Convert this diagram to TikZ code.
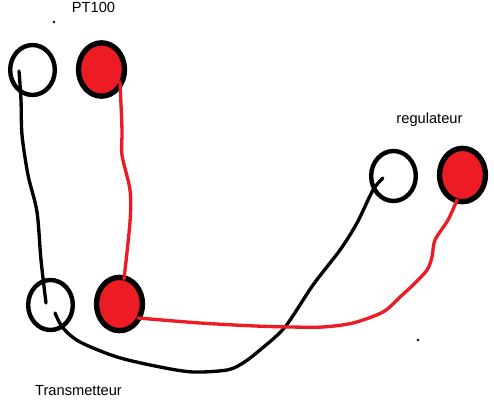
\documentclass[tikz,border=0pt]{standalone}
\usepackage{fontspec}
\setmainfont{Liberation Sans}
\usepackage{xcolor}
\usetikzlibrary{shapes.geometric}
\definecolor{paintred}{HTML}{ED1C24}

\begin{document}
\begin{tikzpicture}[
  x=0.75pt, y=-0.75pt,
  blackpin/.style={draw=black, ellipse, line width=3.3pt, fill=white, inner sep=0pt, minimum width=33.5pt, minimum height=37.5pt},
  redpin/.style={draw=black, ellipse, line width=4pt, fill=paintred, inner sep=0pt, minimum width=34.5pt, minimum height=40pt},
  wire/.style={line width=2.5pt, line cap=round, line join=round},
  label/.style={font=\fontsize{11pt}{13pt}\selectfont, inner sep=0pt},
  speck/.style={fill=black, circle, inner sep=0pt, minimum size=2pt}
]
  \useasboundingbox (0,0) rectangle (494,402);

  % PT100
  \node[blackpin] (ptblack) at (32.5,70) {};
  \node[redpin] (ptred) at (101.5,69.5) {};
  \node[label] (ptlabel) at (93.5,7) {PT100};
  \coordinate (ptblackend) at (19,71);
  \coordinate (ptredend) at (120,82);

  % Transmetteur
  \node[blackpin] (trblack) at (50.5,305) {};
  \node[redpin] (trred) at (119.5,304) {};
  \node[label] (trlabel) at (78.5,391) {Transmetteur};
  \coordinate (trblackin) at (46,303);
  \coordinate (trblackout) at (55,313);
  \coordinate (trredin) at (124,279);
  \coordinate (trredout) at (138,318);

  % regulateur
  \node[blackpin] (regblack) at (393.5,176) {};
  \node[redpin] (regred) at (462.5,175) {};
  \node[label] (reglabel) at (429.5,119.5) {regulateur};
  \coordinate (regblackend) at (383,178);
  \coordinate (regredend) at (457,200);

  % Black wires
  \draw[wire, black] plot[smooth, tension=0.5] coordinates {(ptblackend) (21,100) (22,135) (28,175) (37,212) (41,260) (trblackin)};
  \draw[wire, black] plot[smooth, tension=0.5] coordinates {(trblackout) (63,328) (80,342) (117,357) (160,367) (193,372) (227,370) (243,363) (260,350) (285,327) (313,285) (340,250) (357,223) (373,190) (regblackend)};

  % Red wires
  \draw[wire, paintred] plot[smooth, tension=0.5] coordinates {(ptredend) (122,130) (122,155) (130,190) (130,222) (trredin)};
  \draw[wire, paintred] plot[smooth, tension=0.5] coordinates {(trredout) (200,323) (255,326) (290,327) (323,327) (353,323) (383,312) (400,297) (413,285) (427,270) (432,257) (435,240) (448,220) (regredend)};

  % Specks
  \node[speck] (speckone) at (54,22) {};
  \node[speck] (specktwo) at (418,340) {};

\end{tikzpicture}
\end{document}
